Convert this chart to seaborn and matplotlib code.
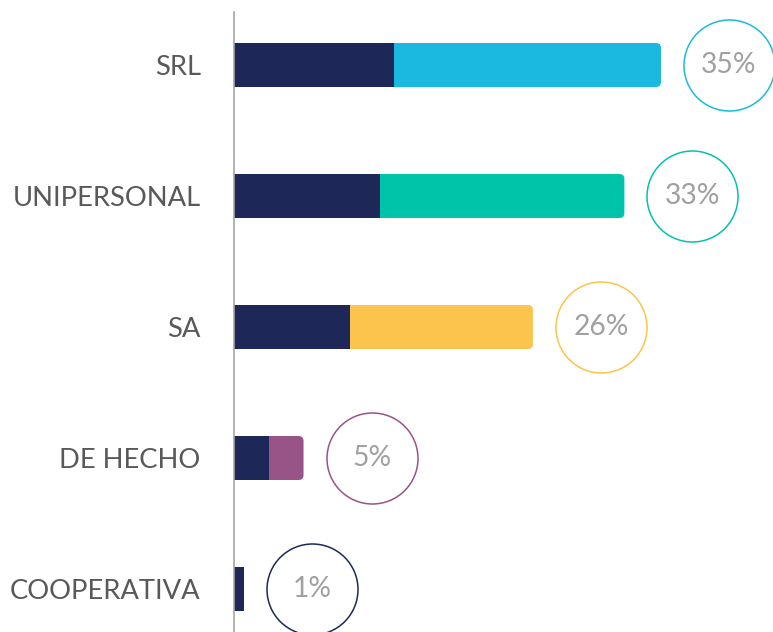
import matplotlib
matplotlib.use("Agg")
import matplotlib.pyplot as plt
from matplotlib.patches import FancyBboxPatch
import seaborn as sns
import pandas as pd

categories = ["SRL", "UNIPERSONAL", "SA", "DE HECHO", "COOPERATIVA"]
dark_part = [13.1, 12.0, 9.5, 2.9, 0.8]
bar_total = [35.0, 32.0, 24.5, 5.7, 0.8]
pct_labels = ["35%", "33%", "26%", "5%", "1%"]
colors = ["#1BB9DF", "#00C4AA", "#FCC44C", "#985486", "#1E2858"]
navy = "#1E2858"

sns.set_style("white")
plt.rcParams["font.family"] = ["Lato", "DejaVu Sans"]

W, H = 773, 632
fig = plt.figure(figsize=(W / 100, H / 100), dpi=100)
ax = fig.add_axes([234 / W, 0, (W - 234) / W, 620 / H])

df = pd.DataFrame({"cat": categories, "total": bar_total, "dark": dark_part})
sns.barplot(data=df, y="cat", x="total", hue="cat", palette=colors, width=44 / 131,
            legend=False, ax=ax, saturation=1, linewidth=0, edgecolor="none")
col_patches = list(ax.patches)
sns.barplot(data=df, y="cat", x="dark", color=navy, width=44 / 131, ax=ax,
            saturation=1, linewidth=0, edgecolor="none")

xmax = (W - 234) / 12.2
ax.set_xlim(0, xmax)
ax.set_ylim((632 - 65) / 131, -53 / 131)

px_x = 12.2
px_y = 131.0
for p, c in zip(col_patches, colors):
    x0, y0, w, h = p.get_x(), p.get_y(), p.get_width(), p.get_height()
    p.set_visible(False)
    r = 5 / px_x
    fb = FancyBboxPatch((x0, y0), w, h,
                        boxstyle=f"round,pad=0,rounding_size={r}",
                        mutation_aspect=px_x / px_y, fc=c, ec="none", lw=0, zorder=1)
    ax.add_patch(fb)
for p in ax.patches[5:10]:
    p.set_zorder(2)

offset = 68 / px_x
for i, (t, lab, c) in enumerate(zip(bar_total, pct_labels, colors)):
    ax.scatter([t + offset], [i], s=(2 * 45.5 * 0.72) ** 2, facecolors="white",
               edgecolors=c, linewidths=1.1, zorder=3, clip_on=False)
    ax.text(t + offset, i, lab, ha="center", va="center", fontsize=20.3,
            color="#A0A0A0", zorder=4)

ax.set_xlabel("")
ax.set_ylabel("")
ax.set_xticks([])
for s in ["top", "right", "bottom"]:
    ax.spines[s].set_visible(False)
ax.spines["left"].set_color("#A6A6A6")
ax.spines["left"].set_linewidth(1.2)
ax.tick_params(axis="y", length=0, pad=24, labelsize=19.7, labelcolor="#595959")

fig.savefig("out.png", dpi=100)
